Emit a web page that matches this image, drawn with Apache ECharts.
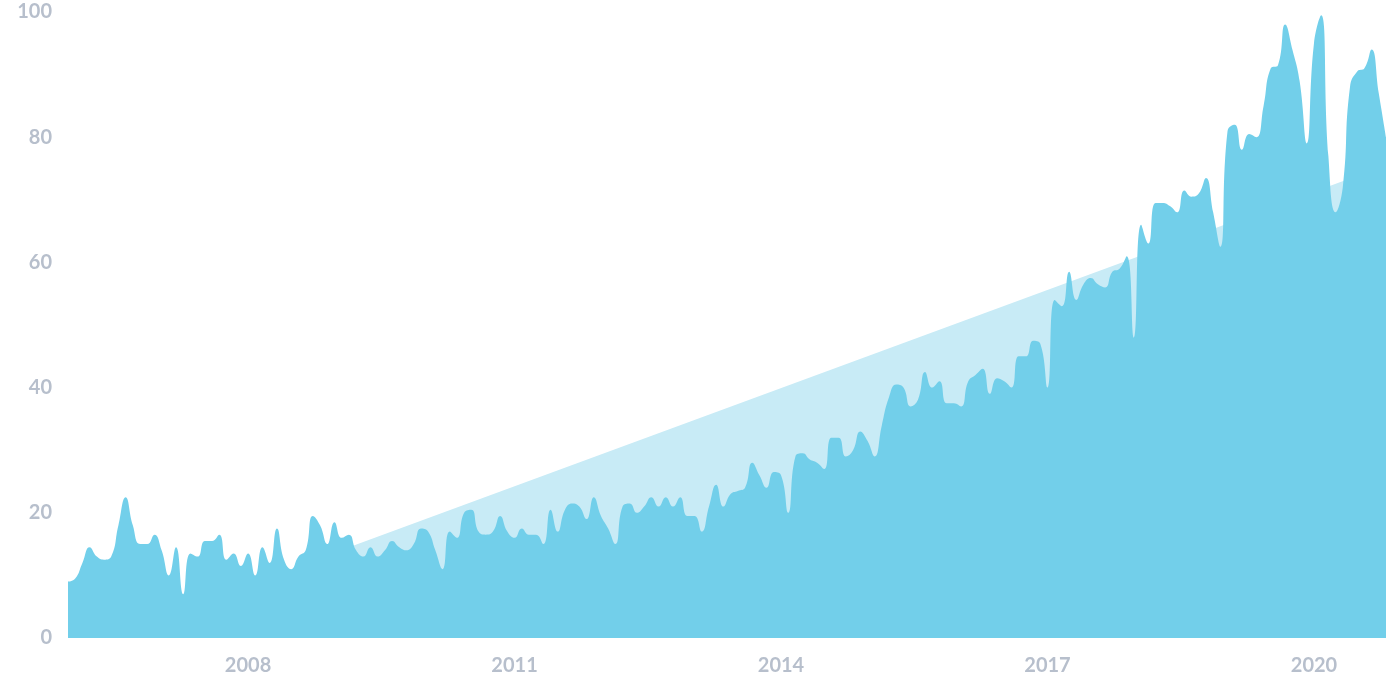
<!DOCTYPE html>
<html><head><meta charset="utf-8">
<script src="https://cdn.jsdelivr.net/npm/echarts@6/dist/echarts.min.js"></script>
<style>html,body{margin:0;padding:0;background:#fff}#c{width:1392px;height:696px}</style>
</head><body><div id="c"></div>
<script>
const values = [
9,9.5,12,14.5,13,12.5,13,18,22.5,18,
15,15,16.5,14,10,14.5,7,13.5,13,15.5,
15.5,16.5,12.5,13.5,11.5,13.5,10,14.5,12,17.5,
12.5,11,13,14,19.5,18,15,18.5,16,16.5,
14,13,14.5,13,14,15.5,14.5,14,15,17.5,
17,14,11,17,16,20,20.5,17,16.5,17,
19.5,17,16,17.5,16.5,16.5,15,20.5,17,20.5,
21.5,21,19,22.5,19.5,17.5,15,21,21.5,20,
21,22.5,21,22.5,21,22.5,19.5,19.5,17,21,
24.5,21,23,23.5,24,28,26,24,26.5,26,
20,29,29.5,28.5,28,27,32,32,29,30,
33,31.5,29,34,38.5,40.5,40,37,38,42.5,
40,41,37.5,37.5,37,41,42,43,39,41.5,
41,40,45,45,47.5,47,40,54,53,58.5,
54,56.5,57.5,56.5,56,58.5,59,61,48,66,
63,69.5,69.5,69,68,71.5,70.5,71,73.5,68,
62.5,81,82,78,80.5,80,85,91,91.5,98,
94,89,79,95,99.5,77,68,72,88,90.5,
91,94,87,80];
const categories = values.map((v,i)=>String(i));
const yearTicks = {25:'2008',62:'2011',99:'2014',136:'2017',173:'2020'};
const trendStart = ['36', 13.2];
const trendEnd = ['183', 75.5];
const chart = echarts.init(document.getElementById('c'));
const lbl = {color:'#b7bfcc', fontSize:20, fontWeight:'bold', fontFamily:'Lato'};
chart.setOption({
  animation:false,
  grid:{left:68,right:6,top:12,bottom:58},
  xAxis:{type:'category',data:categories,boundaryGap:false,
    axisLine:{show:false},axisTick:{show:false},
    axisLabel:Object.assign({interval:0,margin:18,formatter:(v)=>yearTicks[v]||''},lbl)},
  yAxis:{type:'value',min:0,max:100,interval:20,splitLine:{show:false},
    axisLine:{show:false},axisTick:{show:false},
    axisLabel:Object.assign({margin:16},lbl)},
  series:[
    {type:'line',data:[trendStart,trendEnd],symbol:'none',lineStyle:{width:0},
      areaStyle:{color:'#c8ebf6',opacity:1},z:1},
    {type:'line',data:values,smooth:0.5,symbol:'none',lineStyle:{width:0},
      areaStyle:{color:'#72cfea',opacity:1},z:2}
  ]
});
</script></body></html>
